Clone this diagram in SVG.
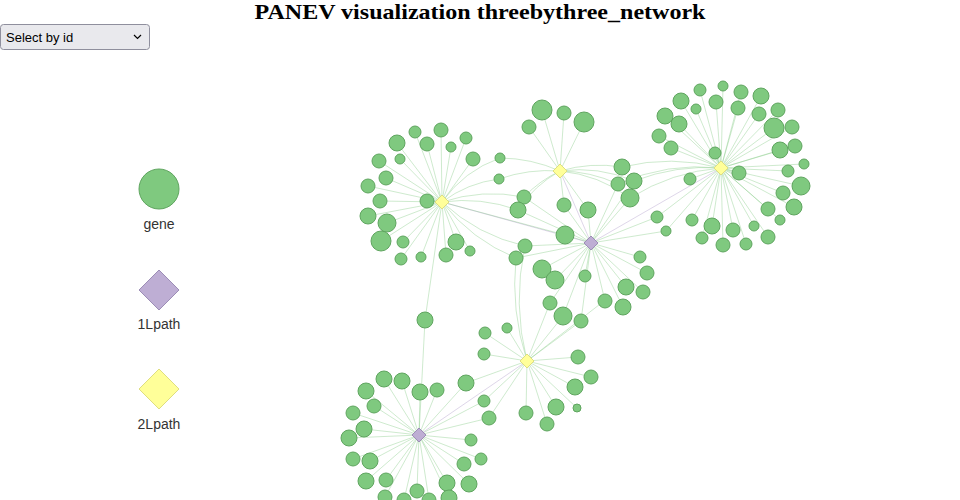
<svg xmlns="http://www.w3.org/2000/svg" xmlns:xlink="http://www.w3.org/1999/xlink" width="960" height="500" viewBox="0 0 960 500">
<style>
.g{fill:#7fc97f;stroke:#5fa55f;stroke-width:1}
.p{fill:#beaed4;stroke:#9c8db6;stroke-width:1}
.y{fill:#ffff99;stroke:#dede80;stroke-width:1}
.e line,.e path{stroke:#7fc97f;stroke-opacity:.38;stroke-width:1;fill:none}
.e .pl{stroke:#beaed4;stroke-opacity:.5}
.lt{font-family:"Liberation Sans",Arial,sans-serif;font-size:14px;fill:#333;text-anchor:middle}
</style>
<defs>
<path id="dm" d="M0,-7L7,0L0,7L-7,0Z"/>
<path id="dl" d="M0,-20L20,0L0,20L-20,0Z"/>
</defs>
<rect width="960" height="500" fill="#fff"/>
<text x="480" y="19" text-anchor="middle" font-family="'Liberation Serif','Times New Roman',serif" font-weight="bold" font-size="22" textLength="451" lengthAdjust="spacingAndGlyphs" fill="#000">PANEV visualization threebythree_network</text>
<g id="select">
<rect x="0.5" y="24.5" width="149" height="25" rx="3" fill="#e9e9ed" stroke="#8f8f9d"/>
<text x="6" y="42" font-family="'Liberation Sans',Arial,sans-serif" font-size="13" fill="#000">Select by id</text>
<path d="M134,35l3.5,3.5l3.5,-3.5" fill="none" stroke="#000" stroke-width="1.2"/>
</g>
<g id="legend">
<g id="leg-gene"><circle class="g" cx="159" cy="189" r="20"/><text class="lt" x="159" y="229">gene</text></g>
<g id="leg-1L"><use href="#dl" class="p" x="159" y="290"/><text class="lt" x="159" y="329">1Lpath</text></g>
<g id="leg-2L"><use href="#dl" class="y" x="159" y="389"/><text class="lt" x="159" y="429">2Lpath</text></g>
</g>
<g id="links" class="e">
<line class="pl" x1="442" y1="202" x2="591" y2="243"/>
<line class="pl" x1="560" y1="171" x2="591" y2="243"/>
<line class="pl" x1="591" y1="243" x2="721" y2="168"/>
<line class="pl" x1="419" y1="435" x2="527" y2="361"/>
<line x1="442" y1="202" x2="415" y2="132"/><line x1="442" y1="202" x2="441" y2="130"/><line x1="442" y1="202" x2="397" y2="143"/><line x1="442" y1="202" x2="427" y2="144"/><line x1="442" y1="202" x2="451" y2="147"/><line x1="442" y1="202" x2="466" y2="138"/><line x1="442" y1="202" x2="379" y2="161"/><line x1="442" y1="202" x2="400" y2="159"/><line x1="442" y1="202" x2="473" y2="159"/><line x1="442" y1="202" x2="386" y2="178"/><line x1="442" y1="202" x2="368" y2="186"/><line x1="442" y1="202" x2="380" y2="201"/><line x1="442" y1="202" x2="427" y2="201"/><line x1="442" y1="202" x2="368" y2="216"/><line x1="442" y1="202" x2="387" y2="223"/><line x1="442" y1="202" x2="381" y2="241"/><line x1="442" y1="202" x2="403" y2="242"/><line x1="442" y1="202" x2="456" y2="242"/><line x1="442" y1="202" x2="470" y2="251"/><line x1="442" y1="202" x2="401" y2="259"/><line x1="442" y1="202" x2="421" y2="257"/><line x1="442" y1="202" x2="446" y2="255"/>
<line x1="560" y1="171" x2="542" y2="110"/><line x1="560" y1="171" x2="564" y2="113"/><line x1="560" y1="171" x2="584" y2="122"/><line x1="560" y1="171" x2="529" y2="127"/>
<path d="M442,202A120,120 0 0 1 500,158"/><path d="M560,171A150,150 0 0 0 500,158"/>
<path d="M442,202A120,120 0 0 1 499,179"/><path d="M560,171A150,150 0 0 0 499,179"/>
<path d="M442,202A160,160 0 0 1 524,197"/><path d="M560,171A120,120 0 0 0 524,197"/><line x1="591" y1="243" x2="524" y2="197"/>
<path d="M442,202A160,160 0 0 1 518,210"/><path d="M560,171A120,120 0 0 0 518,210"/><line x1="591" y1="243" x2="518" y2="210"/>
<path d="M442,202A180,180 0 0 0 525,246"/><path d="M527,361A250,250 0 0 1 525,246"/><line x1="591" y1="243" x2="525" y2="246"/>
<path d="M442,202A180,180 0 0 0 516,258"/><path d="M527,361A250,250 0 0 1 516,258"/><line x1="591" y1="243" x2="516" y2="258"/>
<line x1="442" y1="202" x2="425" y2="320"/><line x1="419" y1="435" x2="425" y2="320"/>
<path d="M560,171A140,140 0 0 1 622,167"/><path d="M721,168A200,200 0 0 0 622,167"/>
<path d="M560,171A140,140 0 0 1 618,184"/><path d="M721,168A200,200 0 0 0 618,184"/><line x1="591" y1="243" x2="618" y2="184"/>
<path d="M560,171A140,140 0 0 1 634,181"/><path d="M721,168A200,200 0 0 0 634,181"/><line x1="591" y1="243" x2="634" y2="181"/>
<path d="M560,171A140,140 0 0 1 630,198"/><path d="M721,168A200,200 0 0 0 630,198"/><line x1="591" y1="243" x2="630" y2="198"/>
<line x1="560" y1="171" x2="564" y2="205"/><line x1="591" y1="243" x2="564" y2="205"/>
<line x1="560" y1="171" x2="588" y2="210"/><line x1="591" y1="243" x2="588" y2="210"/>
<line x1="442" y1="202" x2="565" y2="235"/><line x1="591" y1="243" x2="565" y2="235"/>
<line x1="721" y1="168" x2="657" y2="217"/><line x1="591" y1="243" x2="657" y2="217"/>
<line x1="721" y1="168" x2="666" y2="231"/><line x1="591" y1="243" x2="666" y2="231"/>
<line x1="591" y1="243" x2="550" y2="303"/><line x1="527" y1="361" x2="550" y2="303"/>
<line x1="591" y1="243" x2="563" y2="316"/><line x1="527" y1="361" x2="563" y2="316"/>
<line x1="591" y1="243" x2="581" y2="321"/><line x1="527" y1="361" x2="581" y2="321"/>
<line x1="527" y1="361" x2="466" y2="383"/><line x1="419" y1="435" x2="466" y2="383"/>
<line x1="527" y1="361" x2="484" y2="401"/><line x1="419" y1="435" x2="484" y2="401"/>
<line x1="527" y1="361" x2="489" y2="418"/><line x1="419" y1="435" x2="489" y2="418"/>
<line x1="591" y1="243" x2="640" y2="257"/><line x1="591" y1="243" x2="647" y2="273"/><line x1="591" y1="243" x2="542" y2="269"/><line x1="591" y1="243" x2="555" y2="280"/><line x1="591" y1="243" x2="585" y2="276"/><line x1="591" y1="243" x2="626" y2="287"/><line x1="591" y1="243" x2="643" y2="292"/><line x1="591" y1="243" x2="605" y2="301"/><line x1="591" y1="243" x2="623" y2="307"/>
<line x1="721" y1="168" x2="700" y2="90"/><line x1="721" y1="168" x2="723" y2="86"/><line x1="721" y1="168" x2="741" y2="92"/><line x1="721" y1="168" x2="761" y2="96"/><line x1="721" y1="168" x2="681" y2="101"/><line x1="721" y1="168" x2="716" y2="102"/><line x1="721" y1="168" x2="696" y2="109"/><line x1="721" y1="168" x2="738" y2="108"/><line x1="721" y1="168" x2="778" y2="110"/><line x1="721" y1="168" x2="665" y2="116"/><line x1="721" y1="168" x2="679" y2="124"/><line x1="721" y1="168" x2="759" y2="114"/><line x1="721" y1="168" x2="774" y2="128"/><line x1="721" y1="168" x2="792" y2="127"/><line x1="721" y1="168" x2="659" y2="136"/><line x1="721" y1="168" x2="671" y2="148"/><line x1="721" y1="168" x2="715" y2="153"/><line x1="721" y1="168" x2="780" y2="150"/><line x1="721" y1="168" x2="795" y2="146"/><line x1="721" y1="168" x2="804" y2="164"/><line x1="721" y1="168" x2="788" y2="171"/><line x1="721" y1="168" x2="739" y2="173"/><line x1="721" y1="168" x2="690" y2="179"/><line x1="721" y1="168" x2="801" y2="186"/><line x1="721" y1="168" x2="783" y2="193"/><line x1="721" y1="168" x2="794" y2="207"/><line x1="721" y1="168" x2="768" y2="209"/><line x1="721" y1="168" x2="780" y2="220"/><line x1="721" y1="168" x2="692" y2="220"/><line x1="721" y1="168" x2="712" y2="226"/><line x1="721" y1="168" x2="733" y2="230"/><line x1="721" y1="168" x2="754" y2="226"/><line x1="721" y1="168" x2="768" y2="237"/><line x1="721" y1="168" x2="702" y2="238"/><line x1="721" y1="168" x2="723" y2="245"/><line x1="721" y1="168" x2="746" y2="244"/>
<line x1="527" y1="361" x2="485" y2="333"/><line x1="527" y1="361" x2="507" y2="328"/><line x1="527" y1="361" x2="484" y2="354"/><line x1="527" y1="361" x2="578" y2="357"/><line x1="527" y1="361" x2="591" y2="377"/><line x1="527" y1="361" x2="575" y2="387"/><line x1="527" y1="361" x2="556" y2="407"/><line x1="527" y1="361" x2="577" y2="408"/><line x1="527" y1="361" x2="526" y2="413"/><line x1="527" y1="361" x2="547" y2="424"/><line x1="527" y1="361" x2="604" y2="301"/>
<line x1="419" y1="435" x2="384" y2="379"/><line x1="419" y1="435" x2="402" y2="381"/><line x1="419" y1="435" x2="366" y2="391"/><line x1="419" y1="435" x2="420" y2="392"/><line x1="419" y1="435" x2="437" y2="390"/><line x1="419" y1="435" x2="374" y2="406"/><line x1="419" y1="435" x2="353" y2="413"/><line x1="419" y1="435" x2="364" y2="429"/><line x1="419" y1="435" x2="349" y2="438"/><line x1="419" y1="435" x2="471" y2="440"/><line x1="419" y1="435" x2="353" y2="459"/><line x1="419" y1="435" x2="370" y2="461"/><line x1="419" y1="435" x2="464" y2="464"/><line x1="419" y1="435" x2="481" y2="459"/><line x1="419" y1="435" x2="366" y2="481"/><line x1="419" y1="435" x2="386" y2="480"/><line x1="419" y1="435" x2="447" y2="483"/><line x1="419" y1="435" x2="469" y2="484"/><line x1="419" y1="435" x2="417" y2="491"/><line x1="419" y1="435" x2="385" y2="497"/><line x1="419" y1="435" x2="404" y2="500"/><line x1="419" y1="435" x2="429" y2="500"/><line x1="419" y1="435" x2="449" y2="498"/>
</g>
<g id="nodes">
<g id="A1"><circle class="g" cx="415" cy="132" r="6"/></g><g id="A2"><circle class="g" cx="441" cy="130" r="7"/></g><g id="A3"><circle class="g" cx="397" cy="143" r="8"/></g><g id="A4"><circle class="g" cx="427" cy="144" r="7"/></g><g id="A5"><circle class="g" cx="451" cy="147" r="5"/></g><g id="A6"><circle class="g" cx="466" cy="138" r="6"/></g><g id="A7"><circle class="g" cx="379" cy="161" r="7"/></g><g id="A8"><circle class="g" cx="400" cy="159" r="5"/></g><g id="A9"><circle class="g" cx="473" cy="159" r="7"/></g><g id="A10"><circle class="g" cx="386" cy="178" r="7"/></g><g id="A11"><circle class="g" cx="368" cy="186" r="7"/></g><g id="A12"><circle class="g" cx="380" cy="201" r="7"/></g><g id="A13"><circle class="g" cx="427" cy="201" r="7"/></g><g id="A14"><circle class="g" cx="368" cy="216" r="8"/></g><g id="A15"><circle class="g" cx="387" cy="223" r="9"/></g><g id="A16"><circle class="g" cx="381" cy="241" r="10"/></g><g id="A17"><circle class="g" cx="403" cy="242" r="6"/></g><g id="A18"><circle class="g" cx="456" cy="242" r="8"/></g><g id="A19"><circle class="g" cx="470" cy="251" r="5"/></g><g id="A20"><circle class="g" cx="401" cy="259" r="6"/></g><g id="A21"><circle class="g" cx="421" cy="257" r="5"/></g><g id="A22"><circle class="g" cx="446" cy="255" r="7"/></g>
<g id="X1"><circle class="g" cx="500" cy="158" r="5"/></g><g id="X2"><circle class="g" cx="499" cy="179" r="5"/></g><g id="X3"><circle class="g" cx="524" cy="197" r="7"/></g><g id="X4"><circle class="g" cx="518" cy="210" r="8"/></g><g id="X5"><circle class="g" cx="525" cy="246" r="7"/></g><g id="X6"><circle class="g" cx="516" cy="258" r="7"/></g><g id="X7"><circle class="g" cx="425" cy="320" r="8"/></g>
<g id="B1"><circle class="g" cx="542" cy="110" r="10"/></g><g id="B2"><circle class="g" cx="564" cy="113" r="7"/></g><g id="B3"><circle class="g" cx="584" cy="122" r="10"/></g><g id="B4"><circle class="g" cx="529" cy="127" r="7"/></g>
<g id="X8"><circle class="g" cx="622" cy="167" r="8"/></g><g id="X9"><circle class="g" cx="618" cy="184" r="7"/></g><g id="X10"><circle class="g" cx="634" cy="181" r="8"/></g><g id="X11"><circle class="g" cx="630" cy="198" r="9"/></g><g id="X12"><circle class="g" cx="564" cy="205" r="7"/></g><g id="X13"><circle class="g" cx="588" cy="210" r="8"/></g><g id="X14"><circle class="g" cx="565" cy="235" r="9"/></g><g id="X15"><circle class="g" cx="657" cy="217" r="6"/></g><g id="X16"><circle class="g" cx="666" cy="231" r="5"/></g>
<g id="D1"><circle class="g" cx="640" cy="257" r="6"/></g><g id="D2"><circle class="g" cx="647" cy="273" r="7"/></g><g id="D3"><circle class="g" cx="542" cy="269" r="9"/></g><g id="D4"><circle class="g" cx="555" cy="280" r="9"/></g><g id="D5"><circle class="g" cx="585" cy="276" r="6"/></g><g id="D6"><circle class="g" cx="626" cy="287" r="8"/></g><g id="D7"><circle class="g" cx="643" cy="292" r="7"/></g><g id="D8"><circle class="g" cx="605" cy="301" r="7"/></g><g id="D9"><circle class="g" cx="623" cy="307" r="8"/></g>
<g id="X17"><circle class="g" cx="550" cy="303" r="7"/></g><g id="X18"><circle class="g" cx="563" cy="316" r="9"/></g><g id="X19"><circle class="g" cx="581" cy="321" r="7"/></g>
<g id="C1"><circle class="g" cx="700" cy="90" r="6"/></g><g id="C2"><circle class="g" cx="723" cy="86" r="5"/></g><g id="C3"><circle class="g" cx="741" cy="92" r="7"/></g><g id="C4"><circle class="g" cx="761" cy="96" r="8"/></g><g id="C5"><circle class="g" cx="681" cy="101" r="8"/></g><g id="C6"><circle class="g" cx="716" cy="102" r="7"/></g><g id="C7"><circle class="g" cx="696" cy="109" r="5"/></g><g id="C8"><circle class="g" cx="738" cy="108" r="7"/></g><g id="C9"><circle class="g" cx="778" cy="110" r="7"/></g><g id="C10"><circle class="g" cx="665" cy="116" r="8"/></g><g id="C11"><circle class="g" cx="679" cy="124" r="8"/></g><g id="C12"><circle class="g" cx="759" cy="114" r="7"/></g><g id="C13"><circle class="g" cx="774" cy="128" r="10"/></g><g id="C14"><circle class="g" cx="792" cy="127" r="7"/></g><g id="C15"><circle class="g" cx="659" cy="136" r="7"/></g><g id="C16"><circle class="g" cx="671" cy="148" r="7"/></g><g id="C17"><circle class="g" cx="715" cy="153" r="6"/></g><g id="C18"><circle class="g" cx="780" cy="150" r="8"/></g><g id="C19"><circle class="g" cx="795" cy="146" r="7"/></g><g id="C20"><circle class="g" cx="804" cy="164" r="5"/></g><g id="C21"><circle class="g" cx="788" cy="171" r="6"/></g><g id="C22"><circle class="g" cx="739" cy="173" r="7"/></g><g id="C23"><circle class="g" cx="690" cy="179" r="6"/></g><g id="C24"><circle class="g" cx="801" cy="186" r="9"/></g><g id="C25"><circle class="g" cx="783" cy="193" r="7"/></g><g id="C26"><circle class="g" cx="794" cy="207" r="8"/></g><g id="C27"><circle class="g" cx="768" cy="209" r="7"/></g><g id="C28"><circle class="g" cx="780" cy="220" r="5"/></g><g id="C29"><circle class="g" cx="692" cy="220" r="6"/></g><g id="C30"><circle class="g" cx="712" cy="226" r="8"/></g><g id="C31"><circle class="g" cx="733" cy="230" r="7"/></g><g id="C32"><circle class="g" cx="754" cy="226" r="5"/></g><g id="C33"><circle class="g" cx="768" cy="237" r="7"/></g><g id="C34"><circle class="g" cx="702" cy="238" r="6"/></g><g id="C35"><circle class="g" cx="723" cy="245" r="7"/></g><g id="C36"><circle class="g" cx="746" cy="244" r="6"/></g>
<g id="E1"><circle class="g" cx="485" cy="333" r="6"/></g><g id="E2"><circle class="g" cx="507" cy="328" r="5"/></g><g id="E3"><circle class="g" cx="484" cy="354" r="6"/></g><g id="E4"><circle class="g" cx="578" cy="357" r="7"/></g><g id="E5"><circle class="g" cx="591" cy="377" r="7"/></g><g id="E6"><circle class="g" cx="575" cy="387" r="8"/></g><g id="E7"><circle class="g" cx="556" cy="407" r="8"/></g><g id="E8"><circle class="g" cx="577" cy="408" r="4"/></g><g id="E9"><circle class="g" cx="526" cy="413" r="7"/></g><g id="E10"><circle class="g" cx="547" cy="424" r="7"/></g>
<g id="X20"><circle class="g" cx="466" cy="383" r="8"/></g><g id="X21"><circle class="g" cx="484" cy="401" r="6"/></g><g id="X22"><circle class="g" cx="489" cy="418" r="7"/></g>
<g id="F1"><circle class="g" cx="384" cy="379" r="8"/></g><g id="F2"><circle class="g" cx="402" cy="381" r="8"/></g><g id="F3"><circle class="g" cx="366" cy="391" r="8"/></g><g id="F4"><circle class="g" cx="420" cy="392" r="8"/></g><g id="F5"><circle class="g" cx="437" cy="390" r="7"/></g><g id="F6"><circle class="g" cx="374" cy="406" r="7"/></g><g id="F7"><circle class="g" cx="353" cy="413" r="7"/></g><g id="F8"><circle class="g" cx="364" cy="429" r="8"/></g><g id="F9"><circle class="g" cx="349" cy="438" r="8"/></g><g id="F10"><circle class="g" cx="471" cy="440" r="6"/></g><g id="F11"><circle class="g" cx="353" cy="459" r="7"/></g><g id="F12"><circle class="g" cx="370" cy="461" r="8"/></g><g id="F13"><circle class="g" cx="464" cy="464" r="7"/></g><g id="F14"><circle class="g" cx="481" cy="459" r="6"/></g><g id="F15"><circle class="g" cx="366" cy="481" r="8"/></g><g id="F16"><circle class="g" cx="386" cy="480" r="7"/></g><g id="F17"><circle class="g" cx="447" cy="483" r="8"/></g><g id="F18"><circle class="g" cx="469" cy="484" r="8"/></g><g id="F19"><circle class="g" cx="417" cy="491" r="7"/></g><g id="F20"><circle class="g" cx="385" cy="497" r="7"/></g><g id="F21"><circle class="g" cx="404" cy="500" r="7"/></g><g id="F22"><circle class="g" cx="429" cy="500" r="7"/></g><g id="F23"><circle class="g" cx="449" cy="498" r="8"/></g>
<g id="hubA"><use href="#dm" class="y" x="442" y="202"/></g>
<g id="hubB"><use href="#dm" class="y" x="560" y="171"/></g>
<g id="hubC"><use href="#dm" class="y" x="721" y="168"/></g>
<g id="hubD"><use href="#dm" class="p" x="591" y="243"/></g>
<g id="hubE"><use href="#dm" class="y" x="527" y="361"/></g>
<g id="hubF"><use href="#dm" class="p" x="419" y="435"/></g>
</g>
</svg>
